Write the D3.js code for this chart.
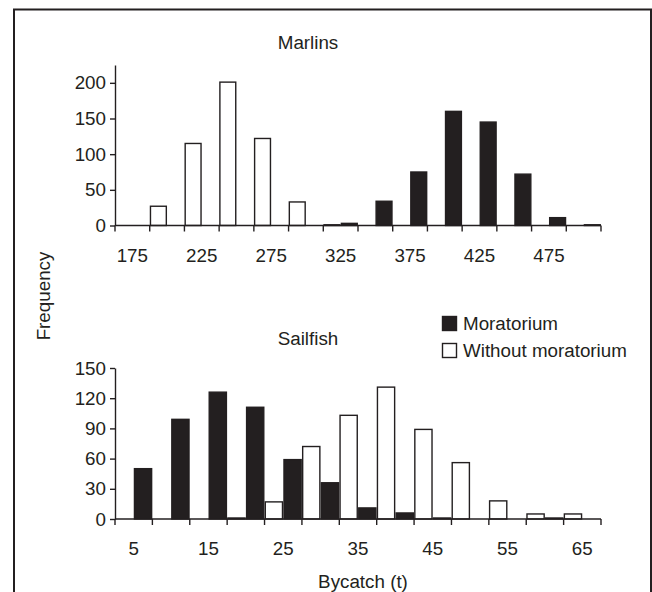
<!DOCTYPE html>
<html>
<head>
<meta charset="utf-8">
<script src="https://cdn.jsdelivr.net/npm/d3@7"></script>
<style>
  body { margin: 0; background: #fff; }
  text { font-family: "Liberation Sans", Arial, sans-serif; fill: #231f20; }
</style>
</head>
<body>
<script>
// Marlins bycatch bins (t)
var marlinBins = [175, 200, 225, 250, 275, 300, 325, 350, 375, 400, 425, 450, 475, 500];
var marlinWithout = [0, 27, 115, 201, 122, 33, 1, 0, 0, 0, 0, 0, 0, 0];
var marlinMoratorium = [0, 0, 0, 0, 0, 0, 3, 34, 75, 160, 145, 72, 11, 1];
var marlinTicks = [0, 50, 100, 150, 200];

// Sailfish bycatch bins (t)
var sailBins = [5, 10, 15, 20, 25, 30, 35, 40, 45, 50, 55, 60, 65];
var sailWithout = [0, 0, 0, 1, 17, 72, 103, 131, 89, 56, 18, 5, 5];
var sailMoratorium = [50, 99, 126, 111, 59, 36, 11, 6, 1, 0, 0, 1, 0];
var sailTicks = [0, 30, 60, 90, 120, 150];

var seriesNames = ["Without moratorium", "Moratorium"];
var ink = "#231f20";
var fontSize = 18.8;

var width = 652, height = 592;
var svg = d3.select("body").append("svg")
  .attr("width", width)
  .attr("height", height);

// outer frame
svg.append("rect")
  .attr("x", 14).attr("y", 9.5)
  .attr("width", 637).attr("height", 600)
  .attr("fill", "none")
  .attr("stroke", ink)
  .attr("stroke-width", 2);

function panel(opts) {
  var x = d3.scaleBand().domain(opts.bins).range([115, 601]).padding(0);
  var sub = d3.scaleBand().domain(seriesNames).range([0, x.bandwidth()]).padding(0);
  var y = d3.scaleLinear().domain([0, opts.max]).range([opts.bottom, opts.top]);

  var g = svg.append("g");

  // bars, white (without) left, black (moratorium) right
  [opts.without, opts.moratorium].forEach(function(vals, si) {
    var rows = vals.map(function(v, i) { return { bin: opts.bins[i], value: v }; })
      .filter(function(d) { return d.value > 0; });
    g.append("g").selectAll("rect")
      .data(rows)
      .enter().append("rect")
      .attr("x", function(d) { return x(d.bin) + sub(seriesNames[si]) + 0.75; })
      .attr("width", sub.bandwidth() - 1.5)
      .attr("y", function(d) { return y(d.value); })
      .attr("height", function(d) { return opts.bottom - y(d.value); })
      .attr("fill", si === 0 ? "#fff" : ink)
      .attr("stroke", ink)
      .attr("stroke-width", 1.4);
  });

  // y axis
  var ya = g.append("g")
    .attr("transform", "translate(115,0)")
    .call(d3.axisLeft(y).tickValues(opts.ticks).tickSize(5).tickPadding(4).tickSizeOuter(0));
  ya.select(".domain").attr("stroke", ink).attr("stroke-width", 1.4);
  ya.selectAll(".tick line").attr("stroke", ink).attr("stroke-width", 1.4);
  ya.selectAll("text").attr("font-size", fontSize).attr("fill", ink)
    .attr("font-family", "Liberation Sans, Arial, sans-serif");

  // x axis: ticks on bin edges, labels on every other bin
  var edges = opts.bins.map(function(b) { return x(b); }).concat([x.range()[1]]);
  var xa = g.append("g");
  xa.append("line")
    .attr("x1", 115).attr("x2", 601)
    .attr("y1", opts.bottom).attr("y2", opts.bottom)
    .attr("stroke", ink).attr("stroke-width", 1.4);
  xa.selectAll("line.edge")
    .data(edges)
    .enter().append("line")
    .attr("class", "edge")
    .attr("x1", function(d) { return d; }).attr("x2", function(d) { return d; })
    .attr("y1", opts.bottom).attr("y2", opts.bottom + 6)
    .attr("stroke", ink).attr("stroke-width", 1.4);
  xa.selectAll("text")
    .data(opts.bins.filter(function(b, i) { return i % 2 === 0; }))
    .enter().append("text")
    .attr("x", function(d) { return x(d) + x.bandwidth() / 2; })
    .attr("y", opts.bottom + 36)
    .attr("text-anchor", "middle")
    .attr("font-size", fontSize)
    .text(function(d) { return d; });

  // panel title
  g.append("text")
    .attr("x", 308).attr("y", opts.titleY)
    .attr("text-anchor", "middle")
    .attr("font-size", fontSize)
    .text(opts.title);
}

panel({
  title: "Marlins", titleY: 49,
  bins: marlinBins, without: marlinWithout, moratorium: marlinMoratorium,
  ticks: marlinTicks, max: 225, top: 65, bottom: 225.5
});

panel({
  title: "Sailfish", titleY: 345,
  bins: sailBins, without: sailWithout, moratorium: sailMoratorium,
  ticks: sailTicks, max: 150, top: 368, bottom: 519
});

// legend
var legend = svg.append("g");
var legendItems = [
  { name: "Moratorium", fill: ink, y: 316 },
  { name: "Without moratorium", fill: "#fff", y: 343 }
];
legend.selectAll("rect")
  .data(legendItems)
  .enter().append("rect")
  .attr("x", 442.5).attr("y", function(d) { return d.y + 0.5; })
  .attr("width", 14).attr("height", 14)
  .attr("fill", function(d) { return d.fill; })
  .attr("stroke", ink).attr("stroke-width", 1.4);
legend.selectAll("text")
  .data(legendItems)
  .enter().append("text")
  .attr("x", 463).attr("y", function(d) { return d.y + 14; })
  .attr("font-size", fontSize)
  .text(function(d) { return d.name; });

// axis titles
svg.append("text")
  .attr("transform", "translate(50,296) rotate(-90)")
  .attr("text-anchor", "middle")
  .attr("font-size", fontSize)
  .text("Frequency");

svg.append("text")
  .attr("x", 363).attr("y", 588)
  .attr("text-anchor", "middle")
  .attr("font-size", fontSize)
  .text("Bycatch (t)");
</script>
</body>
</html>
